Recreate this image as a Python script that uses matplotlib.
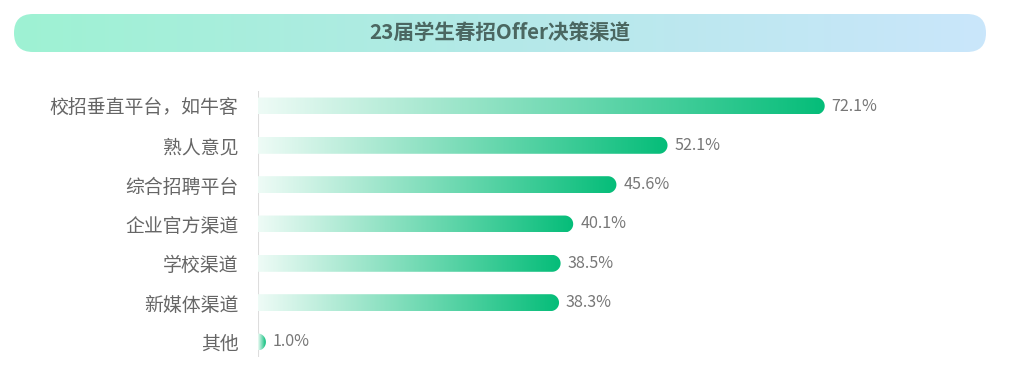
import matplotlib
matplotlib.use("Agg")
import matplotlib.pyplot as plt
import numpy as np
from matplotlib.colors import LinearSegmentedColormap
from matplotlib.patches import Polygon, FancyBboxPatch

plt.rcParams['font.family'] = ['Noto Sans CJK SC', 'DejaVu Sans']

title = "23届学生春招Offer决策渠道"
channels = ["校招垂直平台，如牛客", "熟人意见", "综合招聘平台", "企业官方渠道", "学校渠道", "新媒体渠道", "其他"]
shares = [72.1, 52.1, 45.6, 40.1, 38.5, 38.3, 1.0]

W, H = 1013, 371
fig = plt.figure(figsize=(W / 100, H / 100), dpi=100)

# title banner with gradient
bx, by, bw, bh = 14, 14, 972, 38
tax = fig.add_axes([bx / W, 1 - (by + bh) / H, bw / W, bh / H])
tax.set_xlim(0, bw)
tax.set_ylim(0, bh)
tax.axis('off')
banner_cmap = LinearSegmentedColormap.from_list("banner", ["#9ef2d3", "#b4e9e8", "#cae6fb"])
grad = np.linspace(0, 1, 256).reshape(1, -1)
im = tax.imshow(grad, extent=(0, bw, 0, bh), cmap=banner_cmap, aspect='auto')
box = FancyBboxPatch((0, 0), bw, bh, boxstyle="round,pad=0,rounding_size=19",
                     transform=tax.transData, facecolor='none', edgecolor='none')
tax.add_patch(box)
im.set_clip_path(box)
tax.text(bw / 2, bh / 2, title, ha='center', va='center', fontsize=14.8,
         fontweight='bold', color='#4b6761')

# bar axes: x=0 at pixel 258, 7.86 px per percent
x0_px, right_px = 258, 1000
top_px, bot_px = 86, 362
px_per_x = 7.86
ax = fig.add_axes([x0_px / W, 1 - bot_px / H, (right_px - x0_px) / W, (bot_px - top_px) / H])
ax.set_xlim(0, (right_px - x0_px) / px_per_x)
step = 39.33
ax.set_ylim(6 + (bot_px - 342) / step, -(106 - top_px) / step)
for s in ax.spines.values():
    s.set_visible(False)
ax.set_xticks([])
ax.set_yticks(range(len(channels)))
ax.set_yticklabels(channels, fontsize=13.6, color='#666666')
ax.tick_params(axis='y', length=0, pad=14)

# axis line
ax.plot([0, 0], [-0.38, 6.38], color='#dddddd', lw=1.5, solid_capstyle='butt', zorder=1)

bar_cmap = LinearSegmentedColormap.from_list("bar", ["#eefbf6", "#05bd79"])
bar_h = 0.43
rx = (bar_h * step / 2) / px_per_x
ry = bar_h / 2
for i, v in enumerate(shares):
    r = min(rx, v)
    xs = [0, v - r]
    ys = [i - ry, i - ry]
    t = np.linspace(-np.pi / 2, np.pi / 2, 40)
    xs += list(v - r + r * np.cos(t))
    ys += list(i + ry * np.sin(t))
    xs += [v - r, 0]
    ys += [i + ry, i + ry]
    poly = Polygon(np.column_stack([xs, ys]), closed=True, facecolor='none', edgecolor='none')
    ax.add_patch(poly)
    g = ax.imshow(grad, extent=(0, v, i + ry, i - ry), cmap=bar_cmap, aspect='auto', zorder=2)
    g.set_clip_path(poly)
    ax.annotate(f"{v:.1f}%", xy=(v, i), xytext=(5, 0), textcoords='offset points',
                ha='left', va='center', fontsize=11.6, color='#777777')

ax.set_ylim(6 + (bot_px - 342) / step, -(106 - top_px) / step)
ax.set_xlim(0, (right_px - x0_px) / px_per_x)

fig.savefig("out.png", dpi=100)
